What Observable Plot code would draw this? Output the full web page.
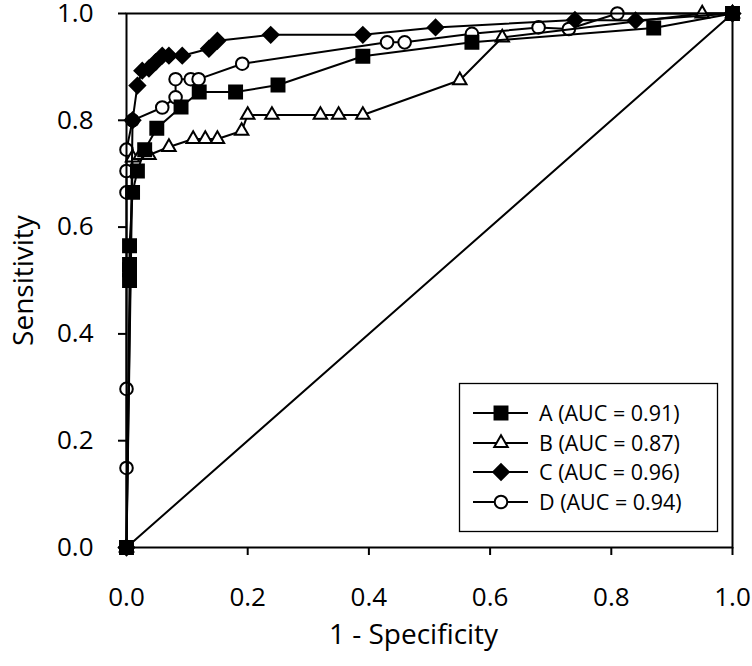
<!DOCTYPE html>
<html><head><meta charset="utf-8">
<script src="https://cdn.jsdelivr.net/npm/d3@7"></script>
<script src="https://cdn.jsdelivr.net/npm/@observablehq/plot@0.6"></script>
<style>
body{margin:0;background:#fff;font-family:"Open Sans",sans-serif;}
#wrap{position:relative;width:752px;height:666px;}
#legend{position:absolute;left:0;top:0;pointer-events:none;}
</style></head><body><div id="wrap"></div>
<script>
const seriesNames = ["A (AUC = 0.91)", "B (AUC = 0.87)", "C (AUC = 0.96)", "D (AUC = 0.94)"];
const xTicks = [0, 0.2, 0.4, 0.6, 0.8, 1.0];
const yTicks = [0, 0.2, 0.4, 0.6, 0.8, 1.0];
const diagX = [0, 1];
const diagY = [0, 1];

const aX = [0, 0.005, 0.005, 0.005, 0.005, 0.01, 0.018, 0.03, 0.05, 0.09, 0.12, 0.18, 0.25, 0.39, 0.57, 0.87, 1];
const aY = [0, 0.50, 0.52, 0.53, 0.565, 0.665, 0.705, 0.745, 0.785, 0.825, 0.853, 0.853, 0.866, 0.92, 0.946, 0.973, 1];

const bX = [0, 0.01, 0.023, 0.037, 0.07, 0.11, 0.13, 0.15, 0.19, 0.20, 0.24, 0.32, 0.35, 0.39, 0.55, 0.62, 0.95, 1];
const bY = [0, 0.73, 0.735, 0.735, 0.75, 0.765, 0.765, 0.765, 0.78, 0.81, 0.81, 0.81, 0.81, 0.81, 0.875, 0.955, 1, 1];

const cX = [0, 0.01, 0.018, 0.026, 0.037, 0.048, 0.059, 0.07, 0.092, 0.136, 0.15, 0.238, 0.39, 0.51, 0.74, 0.84, 1];
const cY = [0, 0.80, 0.865, 0.893, 0.897, 0.909, 0.921, 0.921, 0.921, 0.934, 0.949, 0.96, 0.96, 0.974, 0.988, 0.987, 1];

const dX = [0, 0, 0, 0, 0, 0, 0.01, 0.059, 0.081, 0.081, 0.106, 0.119, 0.191, 0.43, 0.459, 0.57, 0.68, 0.73, 0.81, 1];
const dY = [0, 0.149, 0.297, 0.665, 0.705, 0.745, 0.80, 0.824, 0.843, 0.877, 0.877, 0.877, 0.906, 0.946, 0.946, 0.962, 0.974, 0.971, 1.0, 1];

const toRows = (xs, ys) => xs.map((x, i) => ({x, y: ys[i]}));
const A = toRows(aX, aY), B = toRows(bX, bY), C = toRows(cX, cY), D = toRows(dX, dY);
const diag = toRows(diagX, diagY);

const styles = [
  {data: A, symbol: "square", r: 7.3, fill: "black"},
  {data: B, symbol: "triangle", r: 5, fill: "white"},
  {data: C, symbol: "diamond2", r: 7, fill: "black"},
  {data: D, symbol: "circle", r: 6.3, fill: "white"}
];
const drawOrder = [3, 1, 0, 2];

const marks = [
  Plot.line(diag, {x: "x", y: "y", stroke: "black", strokeWidth: 2}),
];
for (const i of drawOrder) {
  const s = styles[i];
  marks.push(Plot.line(s.data, {x: "x", y: "y", stroke: "black", strokeWidth: 2}));
  marks.push(Plot.dot(s.data, {x: "x", y: "y", symbol: () => s.symbol, r: s.r, fill: s.fill, stroke: "black", strokeWidth: 2}));
}
marks.push(Plot.frame({stroke: "black", strokeWidth: 2}));
marks.push(Plot.axisX({ticks: xTicks, tickFormat: d => d.toFixed(1), tickSize: 8, tickPadding: 32, fontSize: 26, strokeWidth: 2, label: null}));
marks.push(Plot.axisY({ticks: yTicks, tickFormat: d => d.toFixed(1), tickSize: 8, tickPadding: 25, fontSize: 26, strokeWidth: 2, label: null}));
marks.push(Plot.text(["1 - Specificity"], {frameAnchor: "bottom", textAnchor: "middle", dx: -16, dy: 96, fontSize: 28, fill: "black"}));
marks.push(Plot.text(["Sensitivity"], {frameAnchor: "left", textAnchor: "middle", dx: -102, rotate: -90, fontSize: 28, fill: "black"}));

const chart = Plot.plot({
  width: 752, height: 666,
  marginLeft: 126, marginRight: 20, marginTop: 13, marginBottom: 119,
  x: {domain: [0, 1]},
  y: {domain: [0, 1]},
  style: {fontFamily: "Open Sans, sans-serif", color: "black", background: "white", overflow: "visible"},
  marks
});
const wrap = document.getElementById("wrap");
wrap.appendChild(chart);

// legend overlay
const lg = d3.select(wrap).append("svg").attr("id", "legend").attr("width", 752).attr("height", 666)
  .style("font-family", "Open Sans, sans-serif");
lg.append("rect").attr("x", 459.5).attr("y", 383.5).attr("width", 258).attr("height", 148)
  .attr("fill", "white").attr("stroke", "black").attr("stroke-width", 1.3);
const rowY = [413, 443, 472, 502];
const symMap = {square: d3.symbolSquare, triangle: d3.symbolTriangle, diamond2: d3.symbolDiamond2, circle: d3.symbolCircle};
seriesNames.forEach((name, i) => {
  const s = styles[i];
  const g = lg.append("g").attr("transform", `translate(0,${rowY[i]})`);
  g.append("line").attr("x1", 473).attr("x2", 528).attr("y1", 0).attr("y2", 0).attr("stroke", "black").attr("stroke-width", 2);
  g.append("path").attr("transform", "translate(501,0)")
    .attr("d", d3.symbol(symMap[s.symbol], s.r * s.r * Math.PI)())
    .attr("fill", s.fill).attr("stroke", "black").attr("stroke-width", 2);
  g.append("text").attr("x", 539).attr("y", 0).attr("dy", "0.35em").attr("font-size", 21.5).text(name);
});
</script></body></html>
